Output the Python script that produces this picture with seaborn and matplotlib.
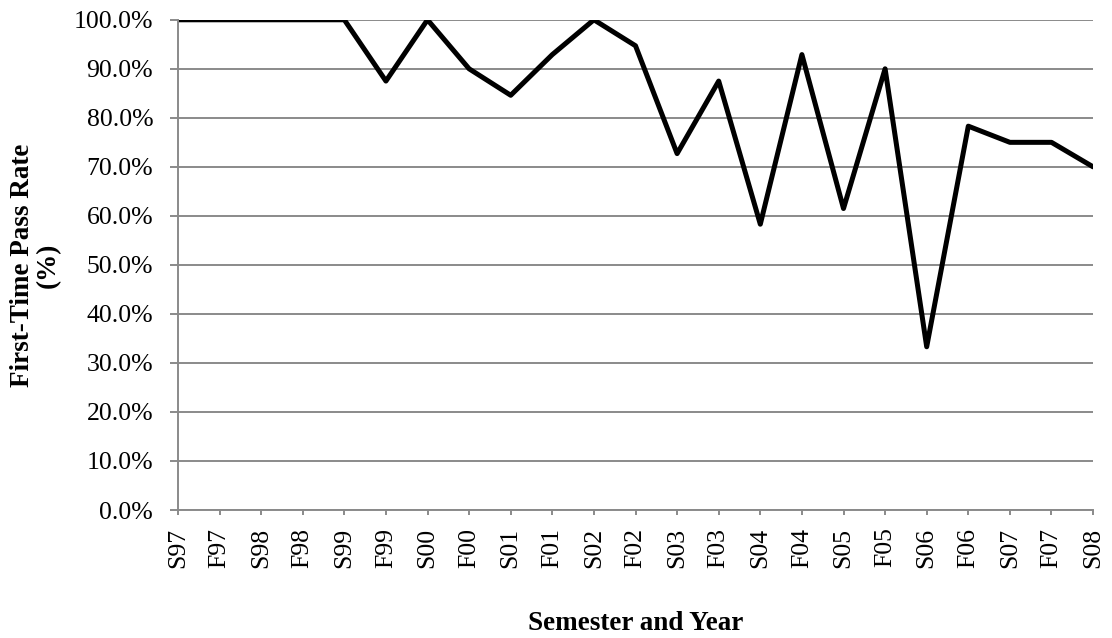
import pandas as pd
import matplotlib
matplotlib.use('Agg')
import matplotlib.pyplot as plt
import seaborn as sns
from matplotlib.ticker import PercentFormatter

# 学期标签与首次通过率 (%)
semesters = ['S97', 'F97', 'S98', 'F98', 'S99', 'F99', 'S00', 'F00', 'S01', 'F01',
             'S02', 'F02', 'S03', 'F03', 'S04', 'F04', 'S05', 'F05', 'S06', 'F06',
             'S07', 'F07', 'S08']
pass_rate = [100.0, 100.0, 100.0, 100.0, 100.0, 87.5, 100.0, 90.0, 84.6, 92.9,
             100.0, 94.7, 72.7, 87.5, 58.3, 92.9, 61.5, 90.0, 33.3, 78.3,
             75.0, 75.0, 70.0]
y_ticks = [0, 10, 20, 30, 40, 50, 60, 70, 80, 90, 100]

df = pd.DataFrame({'Semester': semesters, 'Rate': pass_rate})
df['idx'] = range(len(df))

sns.set_style('white')
plt.rcParams['font.family'] = ['Liberation Serif', 'DejaVu Serif']
plt.rcParams['text.color'] = 'black'
plt.rcParams['axes.labelcolor'] = 'black'
plt.rcParams['xtick.color'] = 'black'
plt.rcParams['ytick.color'] = 'black'

fig, ax = plt.subplots(figsize=(11.12, 6.38), dpi=100)
fig.subplots_adjust(left=0.160, right=0.983, top=0.969, bottom=0.2006)

sns.lineplot(data=df, x='idx', y='Rate', color='black', linewidth=3.6, ax=ax,
             solid_joinstyle='round', solid_capstyle='round')

ax.set_xlim(0, len(semesters) - 1)
ax.set_ylim(0, 100)
ax.set_yticks(y_ticks)
ax.yaxis.set_major_formatter(PercentFormatter(decimals=1))
ax.set_xticks(df['idx'])
ax.set_xticklabels(semesters, rotation=90)

grid_c = '#8a8a8a'
ax.grid(axis='y', color=grid_c, linewidth=1.4)
ax.set_axisbelow(True)
for s in ['top', 'right']:
    ax.spines[s].set_visible(False)
for s in ['left', 'bottom']:
    ax.spines[s].set_color(grid_c)
    ax.spines[s].set_linewidth(1.4)

ax.tick_params(axis='y', which='both', left=True, length=5.8, width=1.4,
               color=grid_c, labelcolor='black', labelsize=18.5, pad=12)
ax.tick_params(axis='x', which='both', bottom=True, length=3.6, width=1.4,
               color=grid_c, labelcolor='black', labelsize=18.5, pad=9)

ax.set_xlabel('Semester and Year', fontsize=19.5, fontweight='bold')
ax.set_ylabel('First-Time Pass Rate\n(%)', fontsize=19.5, fontweight='bold',
              linespacing=1.05)
ax.xaxis.set_label_coords(0.5, -0.205)
ax.yaxis.set_label_coords(-0.128, 0.5)

plt.savefig('out.png', dpi=100)
plt.close()
